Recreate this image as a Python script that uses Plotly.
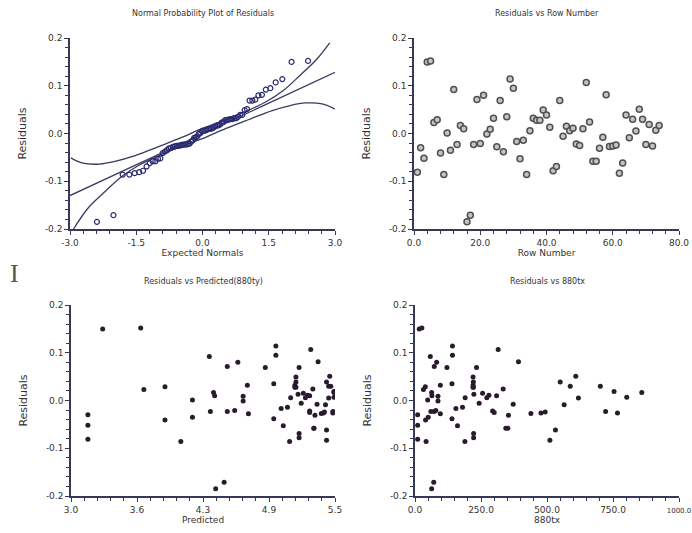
import plotly.graph_objects as go
from statistics import NormalDist

# ---------------- data ----------------
row_number = list(range(1, 75))

residuals = [-0.081, -0.030, -0.052, 0.150, 0.152, 0.023, 0.029, -0.041, -0.086, 0.001,
             -0.035, 0.092, -0.023, 0.017, 0.010, -0.185, -0.171, -0.023, 0.071, -0.021,
             0.080, -0.001, 0.009, 0.032, -0.028, 0.069, -0.038, 0.035, 0.114, 0.095,
             -0.017, -0.053, -0.014, -0.086, 0.006, 0.032, 0.028, 0.028, 0.049, 0.039,
             0.013, -0.078, -0.069, 0.069, -0.006, 0.015, 0.006, 0.011, -0.022, -0.025,
             0.010, 0.107, 0.024, -0.058, -0.058, -0.031, -0.008, 0.081, -0.027, -0.026,
             -0.024, -0.083, -0.062, 0.039, -0.009, 0.030, 0.005, 0.051, 0.030, -0.023,
             0.019, -0.026, 0.007, 0.017]

predicted = [3.16, 3.16, 3.16, 3.30, 3.66, 3.69, 3.89, 3.89, 4.04, 4.15,
             4.15, 4.31, 4.32, 4.35, 4.36, 4.37, 4.45, 4.48, 4.48, 4.55,
             4.58, 4.63, 4.63, 4.67, 4.68, 4.84, 4.92, 4.92, 4.94, 4.94,
             4.99, 5.01, 5.05, 5.07, 5.08, 5.12, 5.12, 5.13, 5.13, 5.13,
             5.15, 5.16, 5.16, 5.16, 5.18, 5.20, 5.22, 5.24, 5.26, 5.26,
             5.26, 5.27, 5.29, 5.30, 5.30, 5.31, 5.33, 5.34, 5.37, 5.39,
             5.40, 5.42, 5.42, 5.42, 5.41, 5.44, 5.44, 5.45, 5.46, 5.48,
             5.49, 5.48, 5.49, 5.49]

x880tx = [10, 10, 10, 16, 26, 32, 39, 40, 42, 48,
          50, 58, 60, 63, 64, 63, 71, 72, 73, 79,
          82, 87, 87, 96, 96, 121, 140, 140, 142, 142,
          155, 161, 180, 189, 190, 220, 220, 221, 220, 221,
          223, 222, 222, 233, 243, 256, 272, 280, 294, 300,
          309, 315, 334, 344, 352, 354, 372, 392, 439, 477,
          493, 511, 532, 550, 565, 588, 619, 609, 702, 722,
          754, 767, 802, 859]

# reference line and confidence band of the normal probability plot
ref_line_x = [-3.0, 3.0]
ref_line_y = [-0.130, 0.128]
upper_band_x = [-2.98, -2.71, -2.33, -1.96, -1.58, -1.20, -0.82, -0.44, -0.07,
                0.31, 0.69, 1.07, 1.45, 1.83, 2.20, 2.58, 2.88]
upper_band_y = [-0.051, -0.062, -0.064, -0.058, -0.048, -0.035, -0.021, -0.007, 0.008,
                0.021, 0.035, 0.050, 0.067, 0.090, 0.121, 0.155, 0.190]
lower_band_x = [-2.92, -2.58, -2.20, -1.83, -1.45, -1.07, -0.69, -0.31, 0.07,
                0.44, 0.82, 1.20, 1.58, 1.96, 2.33, 2.71, 3.0]
lower_band_y = [-0.200, -0.155, -0.121, -0.090, -0.067, -0.050, -0.035, -0.021, -0.008,
                0.007, 0.021, 0.035, 0.048, 0.058, 0.064, 0.062, 0.051]

titles = ["Normal Probability Plot of Residuals", "Residuals vs Row Number",
          "Residuals vs Predicted(880ty)", "Residuals vs 880tx"]
x_titles = ["Expected Normals", "Row Number", "Predicted", "880tx"]
y_title = "Residuals"

y_tickvals = [-0.2, -0.1, 0.0, 0.1, 0.2]
y_ticktext = ["-0.2", "-0.1", "0.0", "0.1", "0.2"]
x1_tickvals = [-3.0, -1.5, 0.0, 1.5, 3.0]
x1_ticktext = ["-3.0", "-1.5", "0.0", "1.5", "3.0"]
x2_tickvals = [0, 20, 40, 60, 80]
x2_ticktext = ["0.0", "20.0", "40.0", "60.0", "80.0"]
x3_tickvals = [3.0, 3.625, 4.25, 4.875, 5.5]
x3_ticktext = ["3.0", "3.6", "4.3", "4.9", "5.5"]
x4_tickvals = [0, 250, 500, 750, 1000]
x4_ticktext = ["0.0", "250.0", "500.0", "750.0", "1000.0"]

# normal scores (Blom) of the sorted residuals
n = len(residuals)
sorted_res = sorted(residuals)
normal_scores = [NormalDist().inv_cdf((i + 1 - 0.375) / (n + 0.25)) for i in range(n)]

# ---------------- figure ----------------
W, H = 692, 533
axis_col = "#38385a"
text_col = "#333333"
FONT = "DejaVu Sans"

def px_x(p):
    return p / W

def px_y(p):
    return 1 - p / H

# the last label of the 880tx axis sits at the page edge: draw it a little smaller
x4_ticktext_drawn = x4_ticktext[:-1] + [
    '<span style="font-size:7px">' + x4_ticktext[-1] + "</span>"]

fig = go.Figure()

line_style = dict(color="#3a3a60", width=1.3)
fig.add_trace(go.Scatter(x=ref_line_x, y=ref_line_y, mode="lines", line=line_style,
                         xaxis="x", yaxis="y", hoverinfo="skip"))
fig.add_trace(go.Scatter(x=upper_band_x, y=upper_band_y, mode="lines", line_shape="spline",
                         line=line_style, xaxis="x", yaxis="y", hoverinfo="skip"))
fig.add_trace(go.Scatter(x=lower_band_x, y=lower_band_y, mode="lines", line_shape="spline",
                         line=line_style, xaxis="x", yaxis="y", hoverinfo="skip"))
fig.add_trace(go.Scatter(x=normal_scores, y=sorted_res, mode="markers",
                         marker=dict(symbol="circle-open", size=5, color="#2a2a70",
                                     line=dict(width=1.2)),
                         xaxis="x", yaxis="y"))

fig.add_trace(go.Scatter(x=row_number, y=residuals, mode="markers",
                         marker=dict(symbol="circle", size=6, color="#c4c4c4",
                                     line=dict(color="#505050", width=1.5)),
                         xaxis="x2", yaxis="y2"))

fig.add_trace(go.Scatter(x=predicted, y=residuals, mode="markers",
                         marker=dict(symbol="circle", size=5, color="#2a1a2e"),
                         xaxis="x3", yaxis="y3"))

fig.add_trace(go.Scatter(x=x880tx, y=residuals, mode="markers",
                         marker=dict(symbol="circle", size=5, color="#2a1a2e"),
                         xaxis="x4", yaxis="y4"))

# panel geometry (pixels)
panels = [
    (70, 335, 38, 229),
    (414, 679, 38, 229),
    (71, 335, 305, 496),
    (415, 679, 305, 496),
]
x_specs = [
    ([-3, 3], x1_tickvals, x1_ticktext, 0.3),
    ([0, 80], x2_tickvals, x2_ticktext, 4),
    ([3.0, 5.5], x3_tickvals, x3_ticktext, 0.125),
    ([0, 1000], x4_tickvals, x4_ticktext_drawn, 50),
]

layout = dict(
    width=W, height=H, margin=dict(l=0, r=0, t=0, b=0),
    paper_bgcolor="white", plot_bgcolor="white", showlegend=False,
    font=dict(family=FONT, color=text_col, size=9),
)

annotations = []
for i, ((x0, x1, y0, y1), (xr, xtv, xtt, xminor)) in enumerate(zip(panels, x_specs)):
    sfx = "" if i == 0 else str(i + 1)
    layout["xaxis" + sfx] = dict(
        domain=[px_x(x0), px_x(x1)], range=xr, anchor="y" + sfx,
        tickmode="array", tickvals=xtv, ticktext=xtt,
        showline=True, linecolor=axis_col, linewidth=1.5, mirror=False,
        showgrid=False, zeroline=False,
        ticks="outside", ticklen=4, tickwidth=1.2, tickcolor=axis_col,
        tickfont=dict(family=FONT, size=9, color=text_col),
        ticklabeloverflow="allow",
        minor=dict(dtick=xminor, tick0=xr[0], ticks="outside", ticklen=3,
                   tickwidth=1, tickcolor=axis_col, showgrid=False),
        title=dict(text=x_titles[i], font=dict(family=FONT, size=9, color=text_col),
                   standoff=2),
        automargin=False,
    )
    layout["yaxis" + sfx] = dict(
        domain=[px_y(y1), px_y(y0)], range=[-0.2, 0.2], anchor="x" + sfx,
        tickmode="array", tickvals=y_tickvals, ticktext=y_ticktext,
        showline=True, linecolor=axis_col, linewidth=1.5,
        showgrid=False, zeroline=False,
        ticks="outside", ticklen=4, tickwidth=1.2, tickcolor=axis_col,
        tickfont=dict(family=FONT, size=9, color=text_col),
        ticklabeloverflow="allow",
        minor=dict(dtick=0.02, tick0=-0.2, ticks="outside", ticklen=3,
                   tickwidth=1, tickcolor=axis_col, showgrid=False),
        title=dict(text=y_title, font=dict(family=FONT, size=11, color=text_col),
                   standoff=16),
        automargin=False,
    )
    annotations.append(dict(
        text=titles[i], x=px_x((x0 + x1) / 2), y=px_y(y0 - 24),
        xref="paper", yref="paper", xanchor="center", yanchor="middle",
        showarrow=False, font=dict(family=FONT, size=8, color=text_col),
    ))

# I-beam cursor glyph visible in the reference
annotations.append(dict(text="I", x=px_x(14), y=px_y(273), xref="paper", yref="paper",
                        xanchor="center", yanchor="middle", showarrow=False,
                        font=dict(family="Liberation Serif", size=26, color="#555555")))

layout["annotations"] = annotations
fig.update_layout(**layout)

fig.write_html("out.html")
